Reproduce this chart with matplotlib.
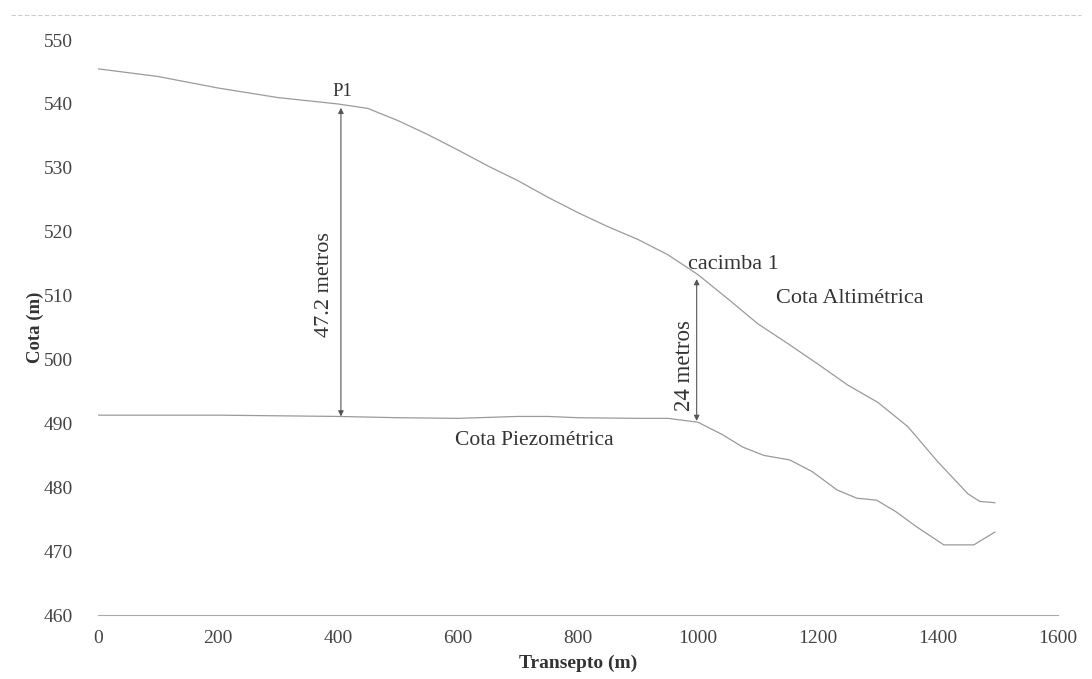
import matplotlib.pyplot as plt
from matplotlib.lines import Line2D

# transect distance (m) and elevations (m)
dist_alt = [0, 100, 200, 300, 400, 450, 500, 550, 600, 650, 700, 750, 800, 850,
            900, 950, 1000, 1050, 1100, 1150, 1200, 1250, 1300, 1350, 1400,
            1450, 1470, 1495]
cota_alt = [545.5, 544.3, 542.5, 541.0, 540.0, 539.3, 537.4, 535.2, 532.8, 530.3,
            528.0, 525.4, 523.0, 520.8, 518.8, 516.4, 513.3, 509.5, 505.6, 502.5,
            499.3, 496.0, 493.3, 489.5, 484.0, 479.0, 477.8, 477.6]

dist_piezo = [0, 100, 200, 300, 400, 500, 600, 700, 750, 800, 900, 950, 1000,
              1040, 1075, 1110, 1153, 1190, 1232, 1265, 1298, 1330, 1365, 1410,
              1460, 1495]
cota_piezo = [491.3, 491.3, 491.3, 491.2, 491.1, 490.9, 490.8, 491.1, 491.1, 490.9,
              490.8, 490.8, 490.2, 488.3, 486.3, 485.0, 484.3, 482.5, 479.6, 478.3,
              478.0, 476.2, 473.8, 471.0, 471.0, 473.0]

x_ticks = [0, 200, 400, 600, 800, 1000, 1200, 1400, 1600]
y_ticks = [460, 470, 480, 490, 500, 510, 520, 530, 540, 550]

plt.rcParams['font.family'] = ['Liberation Serif', 'DejaVu Serif']
txt = '#333333'
line_c = '#9a9a9a'

fig = plt.figure(figsize=(10.92, 6.79), dpi=100)
ax = fig.add_axes([0.0897, 0.094, 0.879, 0.847])

ax.plot(dist_alt, cota_alt, color=line_c, lw=0.9)
ax.plot(dist_piezo, cota_piezo, color=line_c, lw=0.9)

ax.set_xlim(0, 1600)
ax.set_ylim(460, 550)
ax.set_xticks(x_ticks)
ax.set_yticks(y_ticks)
ax.tick_params(axis='both', length=0, labelsize=14, colors='#444444')
ax.tick_params(axis='y', pad=18)
ax.tick_params(axis='x', pad=11)
for s in ['left', 'top', 'right']:
    ax.spines[s].set_visible(False)
ax.spines['bottom'].set_color('#aaaaaa')
ax.spines['bottom'].set_linewidth(0.8)

ax.set_xlabel('Transepto (m)', fontsize=14, fontweight='bold', color=txt, labelpad=5)
ax.set_ylabel('Cota (m)', fontsize=13.5, fontweight='bold', color=txt, labelpad=0)

# dimension arrows
arrow = dict(arrowstyle='<|-|>', color='#555555', lw=0.8, mutation_scale=8,
             shrinkA=0, shrinkB=0)
ax.annotate('', xy=(405, 539.4), xytext=(405, 491.1), arrowprops=arrow)
ax.annotate('', xy=(998, 512.6), xytext=(998, 490.4), arrowprops=arrow)

ax.text(378, 511.7, '47.2 metros', rotation=90, ha='center', va='center',
        fontsize=16, color=txt)
ax.text(978, 499.0, '24 metros', rotation=90, ha='center', va='center',
        fontsize=16.5, color=txt)
ax.text(407, 542.0, 'P1', ha='center', va='center', fontsize=13.5, color=txt)
ax.text(983, 514.8, 'cacimba 1', ha='left', va='center', fontsize=16, color=txt)
ax.text(1253, 509.6, 'Cota Altimétrica', ha='center', va='center', fontsize=16, color=txt)
ax.text(728, 487.3, 'Cota Piezométrica', ha='center', va='center', fontsize=15.5, color=txt)

# faint border line along the top of the scan
fig.add_artist(Line2D([0.01, 0.99], [0.978, 0.978], transform=fig.transFigure,
                      color='#cccccc', lw=0.8, ls=(0, (4, 2))))

fig.savefig('out.png', dpi=100)
